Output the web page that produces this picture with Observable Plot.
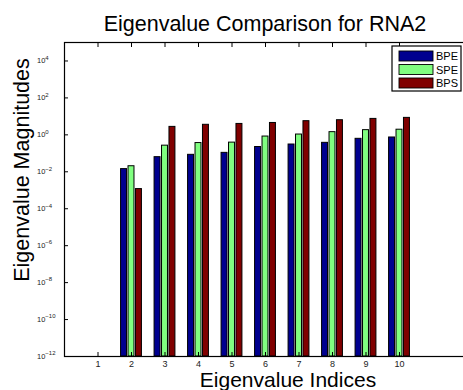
<!DOCTYPE html>
<html>
<head>
<meta charset="utf-8">
<script src="https://cdn.jsdelivr.net/npm/d3@7"></script>
<script src="https://cdn.jsdelivr.net/npm/@observablehq/plot@0.6"></script>
<style>
  html, body { margin: 0; padding: 0; background: #fff; overflow: hidden; }
  #chart svg { display: block; }
</style>
</head>
<body>
<div id="chart"></div>
<script>
// Eigenvalue indices and the three methods being compared
const indices = [1, 2, 3, 4, 5, 6, 7, 8, 9, 10];
const seriesNames = ["BPE", "SPE", "BPS"];
const seriesColors = ["#00008f", "#80ff80", "#800000"];

// Eigenvalue magnitudes per method (index 1 has no value)
const bpe = [null, 0.014, 0.062, 0.083, 0.106, 0.22, 0.30, 0.37, 0.61, 0.72];
const spe = [null, 0.020, 0.26, 0.36, 0.38, 0.81, 1.04, 1.4, 1.8, 1.9];
const bps = [null, 0.00116, 2.7, 3.5, 3.9, 4.4, 5.5, 6.2, 7.3, 8.3];

// Axis limits and log tick exponents
const xLimits = [0, 12];
const yLimits = [1e-12, 1e5];
const yTickExponents = [-12, -10, -8, -6, -4, -2, 0, 2, 4];

const titleText = "Eigenvalue Comparison for RNA2";
const xLabelText = "Eigenvalue Indices";
const yLabelText = "Eigenvalue Magnitudes";

// Grouped bars: each group spans 2/3 of a unit, each bar 80% of its slot
const groupWidth = 2 / 3;
const slot = groupWidth / seriesNames.length;
const barWidth = slot * 0.8;

const rows = [];
[bpe, spe, bps].forEach((vals, k) => vals.forEach((v, i) => {
  if (v != null) rows.push({index: indices[i], series: seriesNames[k], k, value: v});
}));
const barCenter = d => d.index + (d.k - (seriesNames.length - 1) / 2) * slot;

const font = "'Liberation Sans', Arial, Helvetica, sans-serif";
const yTicks = yTickExponents.map(e => Math.pow(10, e));

const chart = Plot.plot({
  width: 463,
  height: 390,
  marginLeft: 64,
  marginRight: -3,
  marginTop: 42,
  marginBottom: 34,
  style: {fontFamily: font, background: "white", color: "black"},
  x: {domain: xLimits, axis: null, label: null},
  y: {type: "log", domain: yLimits, axis: null, label: null},
  color: {domain: seriesNames, range: seriesColors},
  marks: [
    Plot.rect(rows, {
      x1: d => barCenter(d) - barWidth / 2,
      x2: d => barCenter(d) + barWidth / 2,
      y1: yLimits[0],
      y2: "value",
      fill: "series",
      stroke: "black",
      strokeWidth: 1
    }),
    // inward tick marks on all visible sides
    Plot.axisX({ticks: indices, tickSize: -4, tickFormat: () => "", label: null}),
    Plot.axisX({anchor: "top", ticks: indices, tickSize: -4, tickFormat: () => "", label: null}),
    Plot.axisY({ticks: yTicks, tickSize: -4, tickFormat: () => "", label: null}),
    // x tick labels
    Plot.axisX({ticks: indices, tickSize: 0, tickPadding: 4, fontSize: 9, fill: "#222", tickFormat: d => String(d), label: null}),
    Plot.frame({stroke: "black", strokeWidth: 1.2})
  ]
});

const svg = d3.select(chart);
const y = chart.scale("y");

// Power-of-ten tick labels with superscript exponents
yTickExponents.forEach(e => {
  const t = svg.append("text")
    .attr("x", 37)
    .attr("y", y.apply(Math.pow(10, e)) + 2.8)
    .attr("text-anchor", "start")
    .attr("font-family", font)
    .attr("font-size", 7.5)
    .attr("fill", "#222");
  t.append("tspan").text("10");
  t.append("tspan")
    .attr("dy", -3.5)
    .attr("font-size", 6)
    .text(e < 0 ? "\u2212" + (-e) : String(e));
});

// Title and axis labels
svg.append("text")
  .attr("x", 265).attr("y", 31)
  .attr("text-anchor", "middle")
  .attr("font-family", font).attr("font-size", 21.5)
  .text(titleText);

svg.append("text")
  .attr("x", 288).attr("y", 387)
  .attr("text-anchor", "middle")
  .attr("font-family", font).attr("font-size", 21)
  .text(xLabelText);

svg.append("text")
  .attr("transform", "translate(29,170) rotate(-90)")
  .attr("text-anchor", "middle")
  .attr("font-family", font).attr("font-size", 21.5)
  .text(yLabelText);

// Legend box in the upper-right corner
const legend = svg.append("g").attr("text-anchor", "start");
legend.append("rect")
  .attr("x", 392).attr("y", 46).attr("width", 69).attr("height", 45)
  .attr("fill", "white").attr("stroke", "black").attr("stroke-width", 1.2);
seriesNames.forEach((name, k) => {
  const top = 51 + k * 13.5;
  legend.append("rect")
    .attr("x", 399).attr("y", top).attr("width", 34).attr("height", 10)
    .attr("fill", seriesColors[k]).attr("stroke", "black").attr("stroke-width", 0.9);
  legend.append("text")
    .attr("x", 436).attr("y", top + 9.3)
    .attr("text-anchor", "start")
    .attr("font-family", font).attr("font-size", 11)
    .text(name);
});

document.getElementById("chart").appendChild(chart);
</script>
</body>
</html>
